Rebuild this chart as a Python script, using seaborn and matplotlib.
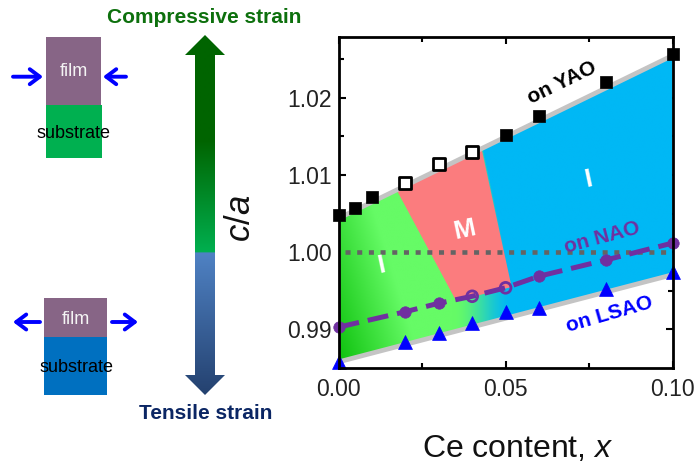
import numpy as np
import pandas as pd
import matplotlib
matplotlib.use("Agg")
import matplotlib.pyplot as plt
import seaborn as sns
from matplotlib.patches import Polygon, Rectangle

# ---------------- data ----------------
yao_x = [0.000, 0.005, 0.010, 0.020, 0.030, 0.040, 0.050, 0.060, 0.080, 0.100]
yao_y = [1.0048, 1.0057, 1.0072, 1.0090, 1.0114, 1.0130, 1.0152, 1.0177, 1.0220, 1.0257]
yao_open = [False, False, False, True, True, True, False, False, False, False]

nao_x = [0.000, 0.020, 0.030, 0.040, 0.050, 0.060, 0.080, 0.100]
nao_y = [0.9903, 0.9923, 0.9934, 0.9943, 0.9954, 0.9969, 0.9990, 1.0012]
nao_open = [False, False, False, True, True, False, False, False]

lsao_x = [0.000, 0.020, 0.030, 0.040, 0.050, 0.060, 0.080, 0.100]
lsao_y = [0.9858, 0.9884, 0.9896, 0.9908, 0.9923, 0.9928, 0.9953, 0.9975]

# substrate guide lines (grey)
guide_x = [0.0, 0.1]
yao_guide_y = [1.0044, 1.0255]
lsao_guide_y = [0.9858, 0.9971]

# phase boundary (M region) : x on top line, lower corners
m_top_x = [0.0174, 0.0428]
m_bottom_x = [0.0518, 0.0352]
m_bottom_y = [0.9955, 0.9937]

x_ticks = [0.00, 0.05, 0.10]
x_tick_labels = ["0.00", "0.05", "0.10"]
y_ticks = [0.99, 1.00, 1.01, 1.02]
y_tick_labels = ["0.99", "1.00", "1.01", "1.02"]

# ---------------- style ----------------
sns.set_theme(style="ticks")
plt.rcParams["font.family"] = ["Liberation Sans", "DejaVu Sans"]
plt.rcParams["mathtext.fontset"] = "custom"
plt.rcParams["mathtext.rm"] = "Liberation Sans"
plt.rcParams["mathtext.it"] = "Liberation Sans:italic"

BLUE_FILL = np.array([0x00, 0xb8, 0xf5]) / 255
PINK = "#fb7c7e"
GDARK = np.array([0x0c, 0xc0, 0x0c]) / 255
GLIGHT = np.array([0x66, 0xfb, 0x66]) / 255
PURPLE = "#7030a0"
GREY = "#c4c4c4"

fig = plt.figure(figsize=(6.98, 4.66), dpi=100)

# overlay axes in pixel coordinates for the schematic
ov = fig.add_axes([0, 0, 1, 1], zorder=0)
ov.set_xlim(0, 698)
ov.set_ylim(466, 0)
ov.axis("off")

ax = fig.add_axes([338.5 / 698, (466 - 368) / 466, 334.2 / 698, 330.7 / 466], zorder=1)
ylo, yhi = 0.98501, 1.02785
ax.set_xlim(0, 0.1)
ax.set_ylim(ylo, yhi)

# ---------------- phase fill ----------------
nx, ny = 600, 500
xs = np.linspace(0, 0.1, nx)
ys = np.linspace(ylo, yhi, ny)
X, Y = np.meshgrid(xs, ys)
s = np.clip(X / 0.025 + (Y - 0.985) / 0.035, 0, 1)
green = GDARK[None, None, :] * (1 - s[..., None]) + GLIGHT[None, None, :] * s[..., None]
t = np.clip((X - 0.034) / 0.018, 0, 1)
t = t * t * (3 - 2 * t)
# right of the M right edge -> pure blue
ytop_r = np.interp(m_top_x[1], guide_x, yao_guide_y)
slope = (m_bottom_x[0] - m_top_x[1]) / (m_bottom_y[0] - ytop_r)
xr = m_top_x[1] + (Y - ytop_r) * slope
t = np.where(X > xr, 1.0, t)
img = green * (1 - t[..., None]) + BLUE_FILL[None, None, :] * t[..., None]
im = ax.imshow(img, extent=[0, 0.1, ylo, yhi], origin="lower", aspect="auto",
               interpolation="bilinear", zorder=1)
band = Polygon([(guide_x[0], lsao_guide_y[0]), (guide_x[1], lsao_guide_y[1]),
                (guide_x[1], yao_guide_y[1]), (guide_x[0], yao_guide_y[0])],
               closed=True, transform=ax.transData, facecolor="none", edgecolor="none")
ax.add_patch(band)
im.set_clip_path(band)

m_poly_x = [m_top_x[0], m_top_x[1], m_bottom_x[0], m_bottom_x[1]]
m_poly_y = [np.interp(m_top_x[0], guide_x, yao_guide_y),
            np.interp(m_top_x[1], guide_x, yao_guide_y),
            m_bottom_y[0], m_bottom_y[1]]
ax.fill(m_poly_x, m_poly_y, color=PINK, lw=0, zorder=1.5)

# grey guide lines
ax.plot(guide_x, yao_guide_y, color=GREY, lw=3.4, zorder=2, solid_capstyle="butt")
ax.plot(guide_x, lsao_guide_y, color=GREY, lw=3.4, zorder=2, solid_capstyle="butt")

# dotted c/a = 1 line
ax.plot([0.002, 0.1], [1.0, 1.0], color="#646464", lw=3.3, zorder=2.5,
        linestyle=(0, (1.1, 1.45)), dash_capstyle="butt")

# ---------------- data marks ----------------
df_yao = pd.DataFrame({"x": yao_x, "y": yao_y, "open": yao_open})
df_nao = pd.DataFrame({"x": nao_x, "y": nao_y, "open": nao_open})
df_lsao = pd.DataFrame({"x": lsao_x, "y": lsao_y})

sns.lineplot(data=df_nao, x="x", y="y", color=PURPLE, lw=3.6, ax=ax, zorder=3,
             linestyle=(0, (4.2, 1.8)), dash_capstyle="butt", estimator=None, sort=True)

sns.scatterplot(data=df_yao[~df_yao["open"]], x="x", y="y", marker="s", s=82,
                color="black", edgecolor="black", linewidth=0.5, ax=ax, zorder=5, clip_on=False)
sns.scatterplot(data=df_yao[df_yao["open"]], x="x", y="y", marker="s", s=72,
                color="white", edgecolor="black", linewidth=2.0, ax=ax, zorder=5, clip_on=False)

sns.scatterplot(data=df_nao[~df_nao["open"]], x="x", y="y", marker="o", s=68,
                color=PURPLE, edgecolor=PURPLE, linewidth=0.5, ax=ax, zorder=5, clip_on=False)
sns.scatterplot(data=df_nao[df_nao["open"]], x="x", y="y", marker="o", s=60,
                color=PURPLE, edgecolor=PURPLE, linewidth=2.0, ax=ax, zorder=5, clip_on=False)
ax.collections[-1].set_facecolor("none")

sns.scatterplot(data=df_lsao, x="x", y="y", marker="^", s=100, color="#0000ff",
                edgecolor="#0000ff", linewidth=0.5, ax=ax, zorder=5, clip_on=False)

# ---------------- axes styling ----------------
ax.set_xticks(x_ticks)
ax.set_xticklabels(x_tick_labels)
ax.set_xticks([0.025, 0.075], minor=True)
ax.set_yticks(y_ticks)
ax.set_yticklabels(y_tick_labels)
ax.set_yticks([0.995, 1.005, 1.015, 1.025], minor=True)
ax.tick_params(which="both", direction="in", top=True, right=True, width=1.5, color="black")
ax.tick_params(which="major", length=5, labelsize=16.5, labelcolor="#222222")
ax.tick_params(axis="x", which="major", pad=7)
ax.tick_params(axis="y", which="major", pad=5)
ax.tick_params(which="minor", length=3.5)
for sp in ax.spines.values():
    sp.set_linewidth(2)
    sp.set_color("black")
    sp.set_zorder(6)

ax.set_xlabel("Ce content, $x$", fontsize=23, color="#111111")
ax.xaxis.set_label_coords(0.5356, -0.2)
ax.set_ylabel("$c/a$", fontsize=25, color="#111111")
ax.yaxis.set_label_coords(-0.243, 0.4536)

# in-plot labels
ax.text(0.0669, 1.0219, "on YAO", fontsize=15, fontweight="bold", color="black",
        rotation=26, rotation_mode="anchor", ha="center", va="center", zorder=7)
ax.text(0.0788, 1.0019, "on NAO", fontsize=15, fontweight="bold", color=PURPLE,
        rotation=15, rotation_mode="anchor", ha="center", va="center", zorder=7)
ax.text(0.0810, 0.9919, "on LSAO", fontsize=15, fontweight="bold", color="#0000ff",
        rotation=16, rotation_mode="anchor", ha="center", va="center", zorder=7)
ax.text(0.0128, 0.99835, "I", fontsize=19, fontweight="bold", color="white",
        rotation=12, ha="center", va="center", zorder=7)
ax.text(0.0378, 1.0029, "M", fontsize=19, fontweight="bold", color="white",
        rotation=12, ha="center", va="center", zorder=7)
ax.text(0.0747, 1.0094, "I", fontsize=19, fontweight="bold", color="white",
        rotation=12, ha="center", va="center", zorder=7)

# ---------------- schematic (left) ----------------
def lerp(c1, c2, f):
    c1 = np.array(matplotlib.colors.to_rgb(c1))
    c2 = np.array(matplotlib.colors.to_rgb(c2))
    return c1 * (1 - f) + c2 * f

ypx = np.linspace(35, 395, 361)
cols = []
for yy in ypx:
    if yy < 140:
        cols.append(lerp("#006400", "#006400", 0))
    elif yy < 253:
        cols.append(lerp("#006400", "#00b050", (yy - 140) / 113))
    else:
        cols.append(lerp("#4f82c4", "#24416f", (yy - 253) / 142))
arrow_img = np.array(cols)[:, None, :]
aim = ov.imshow(arrow_img, extent=[185, 225, 395, 35], origin="upper", aspect="auto",
                interpolation="bilinear", zorder=1)
arrow_poly = Polygon([(205, 35), (225, 55), (215, 55), (215, 375), (225, 375), (205, 395),
                      (185, 375), (195, 375), (195, 55), (185, 55)], closed=True,
                     transform=ov.transData, facecolor="none", edgecolor="none")
ov.add_patch(arrow_poly)
aim.set_clip_path(arrow_poly)
ov.set_xlim(0, 698)
ov.set_ylim(466, 0)

ov.text(204, 17.5, "Compressive strain", fontsize=15, fontweight="bold", color="#0d700d",
        ha="center", va="center")
ov.text(205.5, 413.5, "Tensile strain", fontsize=15, fontweight="bold", color="#0b2664",
        ha="center", va="center")

FILM = "#876586"
ov.add_patch(Rectangle((45.7, 36.7), 55.3, 68.3, facecolor=FILM, edgecolor="none"))
ov.add_patch(Rectangle((45.7, 105), 56.3, 52.7, facecolor="#00b050", edgecolor="none"))
ov.text(73.5, 72, "film", fontsize=13, color="#f4f4f4", ha="center", va="center")
ov.text(73.5, 133, "substrate", fontsize=13, color="black", ha="center", va="center")

ov.add_patch(Rectangle((44, 298), 63, 39, facecolor=FILM, edgecolor="none"))
ov.add_patch(Rectangle((44, 337), 63, 58, facecolor="#0070c0", edgecolor="none"))
ov.text(76, 319, "film", fontsize=13, color="#f4f4f4", ha="center", va="center")
ov.text(76, 367, "substrate", fontsize=13, color="black", ha="center", va="center")

aprops = dict(arrowstyle="->,head_length=0.6,head_width=0.45", lw=2.8, color="#0000ff",
              shrinkA=0, shrinkB=0)
ov.annotate("", xy=(43, 76.7), xytext=(13, 76.7), arrowprops=aprops)
ov.annotate("", xy=(103, 76.7), xytext=(126, 76.7), arrowprops=aprops)
ov.annotate("", xy=(13, 322), xytext=(40, 322), arrowprops=aprops)
ov.annotate("", xy=(138, 322), xytext=(112, 322), arrowprops=aprops)

fig.savefig("out.png", dpi=100)
